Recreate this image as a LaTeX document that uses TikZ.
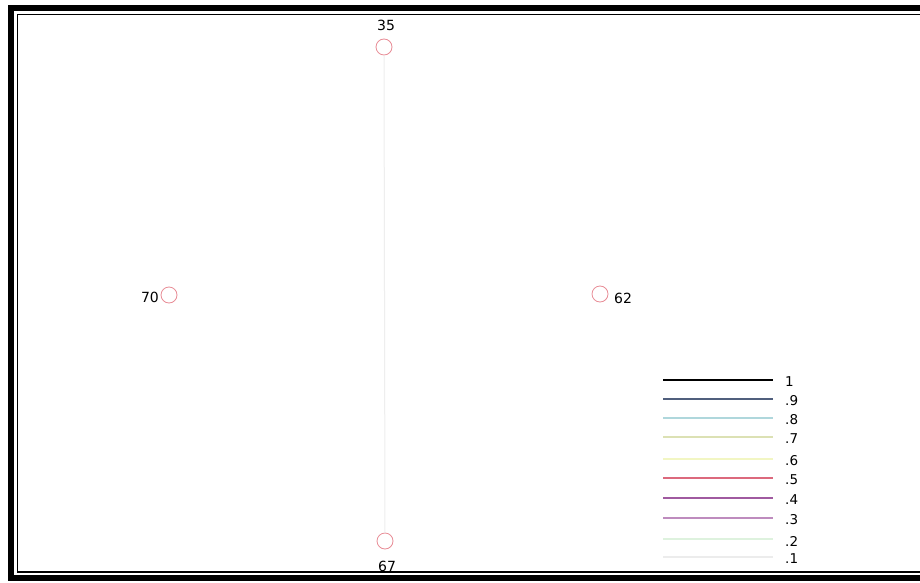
\documentclass[tikz,border=0pt]{standalone}
\usepackage{fontspec}
\setmainfont{DejaVu Sans}
\definecolor{circ}{RGB}{232,140,150}
\definecolor{faint}{RGB}{238,238,238}
\definecolor{l9}{RGB}{80,95,125}
\definecolor{l8}{RGB}{175,215,220}
\definecolor{l7}{RGB}{220,225,180}
\definecolor{l6}{RGB}{242,246,195}
\definecolor{l5}{RGB}{220,105,125}
\definecolor{l4}{RGB}{160,90,160}
\definecolor{l3}{RGB}{190,140,190}
\definecolor{l2}{RGB}{222,242,222}
\definecolor{l1}{RGB}{236,236,236}
\tikzset{
  vtx/.style={circle, draw=circ, line width=0.8pt, minimum size=16pt, inner sep=0pt},
  lbl/.style={font=\fontsize{14}{15}\selectfont, inner sep=1pt},
  leglbl/.style={font=\fontsize{13.5}{15}\selectfont, anchor=west, inner sep=0pt}
}
\begin{document}
\begin{tikzpicture}[x=1pt,y=-1pt]
\useasboundingbox (0,0) rectangle (920,583);
\fill[white] (0,0) rectangle (920,583);
\begin{scope}
\clip (0,0) rectangle (920,583);
\draw[line width=6pt] (11,8) rectangle (940,578);
\draw[line width=1.2pt] (17.5,14.5) rectangle (940,572);
\end{scope}
% vertices
\node[vtx] (v35) at (384,47) {};
\node[vtx] (v67) at (385,541) {};
\node[vtx] (v70) at (169,295) {};
\node[vtx] (v62) at (600,294) {};
\node[lbl] (t35) at (386,25) {35};
\node[lbl] (t67) at (387,566) {67};
\node[lbl] (t70) at (150,297) {70};
\node[lbl] (t62) at (623,298) {62};
% edge
\draw[faint, line width=1pt] (v35) -- (v67);
% legend
\foreach \i/\v/\c/\y/\w in {10/1/black/380/1.8, 9/.9/l9/399/1.3, 8/.8/l8/418/1.2, 7/.7/l7/437/1.2, 6/.6/l6/459/1.4, 5/.5/l5/478/1.2, 4/.4/l4/498/1.2, 3/.3/l3/518/1.2, 2/.2/l2/539/1.2, 1/.1/l1/557/1.2}{
  \coordinate (a\i) at (663,\y);
  \coordinate (b\i) at (773,\y);
  \draw[color=\c, line width=\w pt] (a\i) -- (b\i);
  \node[leglbl] (n\i) at (785,\y+2) {\v};
}
\end{tikzpicture}
\end{document}
